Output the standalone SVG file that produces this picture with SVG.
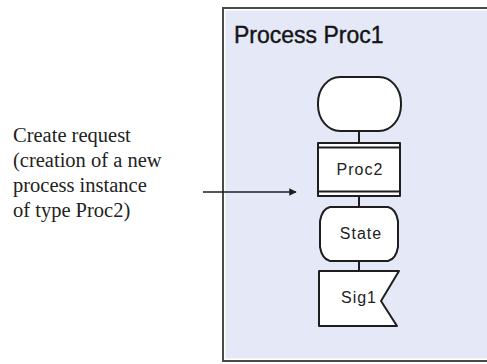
<svg xmlns="http://www.w3.org/2000/svg" width="487" height="364" viewBox="0 0 487 364">
  <style>
    .frame { fill: #ffffff; stroke: #4a4a4a; stroke-width: 2; }
    .frame-fill { fill: #e4e8f7; }
    .sym { fill: #ffffff; stroke: #1e1e1e; stroke-width: 2; stroke-linejoin: round; }
    .flow { stroke: #1e1e1e; stroke-width: 2; fill: none; }
    .title { font-family: "Liberation Sans", Arial, sans-serif; font-size: 23px; fill: #151515; stroke: #151515; stroke-width: 0.4px; }
    .label { font-family: "Liberation Sans", Arial, sans-serif; font-size: 16px; letter-spacing: 1px; fill: #222222; text-anchor: middle; }
    .note { font-family: "Liberation Serif", "Times New Roman", serif; font-size: 20.5px; fill: #222222; }
  </style>
  <defs>
    <marker id="arrow" viewBox="0 0 10 10" refX="9" refY="5" markerWidth="5.5" markerHeight="5" orient="auto">
      <path d="M0,0 L10,5 L0,10 Z" fill="#1e1e1e"/>
    </marker>
  </defs>

  <rect width="487" height="364" fill="#ffffff"/>

  <!-- process frame -->
  <g id="process-frame">
    <rect class="frame" x="223" y="8" width="280" height="353"/>
    <rect class="frame-fill" x="225.5" y="10.5" width="270" height="348"/>
    <text class="title" x="234" y="43">Process Proc1</text>
  </g>

  <!-- flow lines between symbols -->
  <g id="connectors">
    <line class="flow" x1="359" y1="131" x2="359" y2="143"/>
    <line class="flow" x1="359" y1="196" x2="359" y2="207"/>
    <line class="flow" x1="359" y1="261" x2="359" y2="271"/>
    <line stroke="#1e1e1e" stroke-width="1.5" x1="203" y1="192" x2="296" y2="192" marker-end="url(#arrow)"/>
  </g>

  <g id="start">
    <rect class="sym" x="318" y="77" width="83" height="54" rx="22" ry="26"/>
  </g>

  <g id="create-proc2">
    <rect class="sym" x="318" y="143" width="82" height="53"/>
    <line class="flow" x1="318" y1="147.5" x2="400" y2="147.5" stroke-width="1.5"/>
    <line class="flow" x1="318" y1="191.5" x2="400" y2="191.5" stroke-width="1.5"/>
    <text class="label" x="360" y="175">Proc2</text>
  </g>

  <g id="state">
    <path class="sym" d="M330,207 L388,207 Q396,209 398,221 L398,247 Q396,259 388,261 L330,261 Q322,259 320,247 L320,221 Q322,209 330,207 Z"/>
    <text class="label" x="361" y="239">State</text>
  </g>

  <g id="input-sig1">
    <path class="sym" d="M319,271 L399,271 L381,301 L397,326 L319,326 Z"/>
    <text class="label" x="359" y="303">Sig1</text>
  </g>

  <g id="note">
    <text class="note" x="13" y="142">Create request</text>
    <text class="note" x="13" y="167">(creation of a new</text>
    <text class="note" x="13" y="192">process instance</text>
    <text class="note" x="13" y="217">of type Proc2)</text>
  </g>
</svg>
